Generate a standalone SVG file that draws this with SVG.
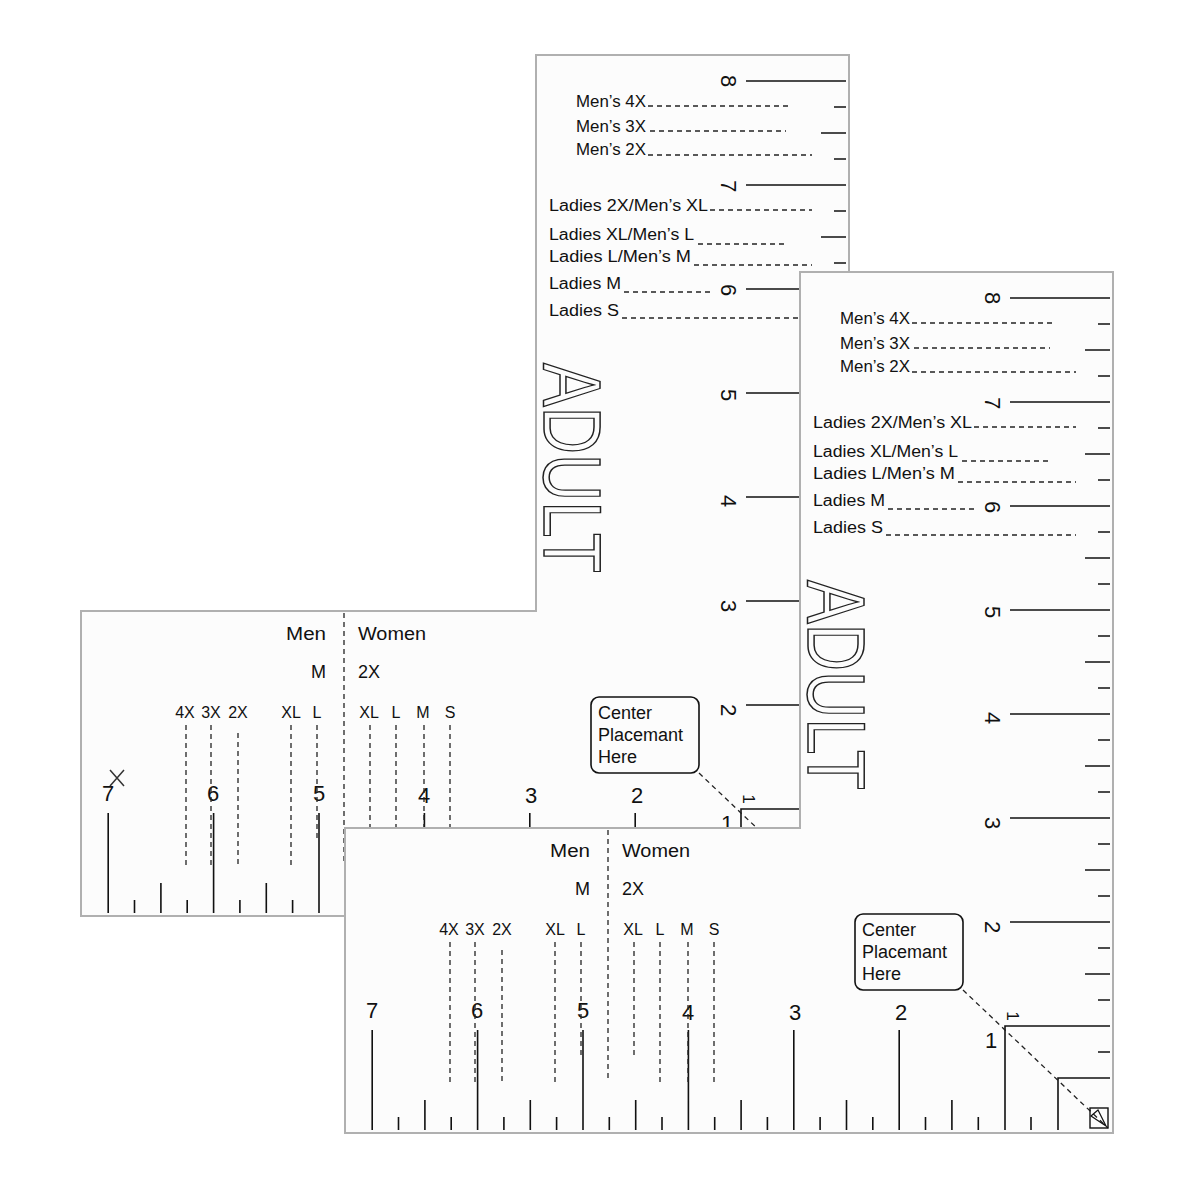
<svg xmlns="http://www.w3.org/2000/svg" xmlns:xlink="http://www.w3.org/1999/xlink" width="1200" height="1200" viewBox="0 0 1200 1200">
<style>
.body{fill:#fcfcfc;stroke:#b0b0b0;stroke-width:2}
.tk{stroke:#111;stroke-width:1.6;fill:none}
.ds{stroke:#222;stroke-width:1.3;stroke-dasharray:5,4;fill:none}
.num{font-family:"Liberation Sans",Arial,sans-serif;font-size:22px;fill:#111;text-anchor:middle;dominant-baseline:central}
.lb{font-family:"Liberation Sans",Arial,sans-serif;font-size:16px;fill:#111}
.hl{font-family:"Liberation Sans",Arial,sans-serif;font-size:18px;fill:#111}
.adult{font-family:"Liberation Sans",Arial,sans-serif;font-size:82px;fill:none;stroke:#222;stroke-width:1.5}
</style>
<defs>
<g id="ruler">
<path class="body" d="M345,828 H800 V272 H1113 V1133 H345 Z"/>
<!-- bottom ticks -->
<path class="tk" d="M1031,1117V1130M978.3,1117V1130M925.5,1117V1130M872.8,1117V1130M820.1,1117V1130M767.4,1117V1130M714.7,1117V1130M662,1117V1130M609.3,1117V1130M556.6,1117V1130M503.9,1117V1130M451.2,1117V1130M398.5,1117V1130
M951.9,1100V1130M846.5,1100V1130M741.1,1100V1130M635.7,1100V1130M530.3,1100V1130M424.9,1100V1130
M899.2,1030V1130M793.8,1030V1130M688.4,1030V1130M583,1030V1130M477.6,1030V1130M372.2,1030V1130
M1005,1130V1026H1110M1058,1130V1078H1110"/>
<!-- side ticks -->
<path class="tk" d="M1098,1052H1110M1098,1000H1110M1098,948H1110M1098,896H1110M1098,844H1110M1098,792H1110M1098,740H1110M1098,688H1110M1098,636H1110M1098,584H1110M1098,532H1110M1098,480H1110M1098,428H1110M1098,376H1110M1098,324H1110
M1085,974H1110M1085,870H1110M1085,766H1110M1085,662H1110M1085,558H1110M1085,454H1110M1085,350H1110
M1010,922H1110M1010,818H1110M1010,714H1110M1010,610H1110M1010,506H1110M1010,402H1110M1010,298H1110"/>
<!-- bottom numbers -->
<text class="num" x="372" y="1010">7</text><text class="num" x="477" y="1010">6</text><text class="num" x="583" y="1010">5</text><text class="num" x="688" y="1012">4</text><text class="num" x="795" y="1012">3</text><text class="num" x="901" y="1012">2</text><text class="num" x="991" y="1040">1</text>
<!-- side numbers -->
<text class="num" transform="translate(992,298) rotate(90)">8</text>
<text class="num" transform="translate(992,403) rotate(90)">7</text>
<text class="num" transform="translate(992,507) rotate(90)">6</text>
<text class="num" transform="translate(992,612) rotate(90)">5</text>
<text class="num" transform="translate(992,718) rotate(90)">4</text>
<text class="num" transform="translate(992,823) rotate(90)">3</text>
<text class="num" transform="translate(992,927) rotate(90)">2</text>
<text class="num" style="font-size:17px" transform="translate(1012,1016) rotate(90)">1</text>
<!-- size labels -->
<text class="lb" x="840" y="324" textLength="70" lengthAdjust="spacingAndGlyphs">Men’s 4X</text><path class="ds" d="M912,323H1052"/>
<text class="lb" x="840" y="349" textLength="70" lengthAdjust="spacingAndGlyphs">Men’s 3X</text><path class="ds" d="M914,348H1050"/>
<text class="lb" x="840" y="372" textLength="70" lengthAdjust="spacingAndGlyphs">Men’s 2X</text><path class="ds" d="M912,372H1076"/>
<text class="lb" x="813" y="428" textLength="159" lengthAdjust="spacingAndGlyphs">Ladies 2X/Men’s XL</text><path class="ds" d="M974,427H1076"/>
<text class="lb" x="813" y="457" textLength="145" lengthAdjust="spacingAndGlyphs">Ladies XL/Men’s L</text><path class="ds" d="M962,461H1050"/>
<text class="lb" x="813" y="479" textLength="142" lengthAdjust="spacingAndGlyphs">Ladies L/Men’s M</text><path class="ds" d="M958,482H1076"/>
<text class="lb" x="813" y="506" textLength="72" lengthAdjust="spacingAndGlyphs">Ladies M</text><path class="ds" d="M888,509H976"/>
<text class="lb" x="813" y="533" textLength="70" lengthAdjust="spacingAndGlyphs">Ladies S</text><path class="ds" d="M886,535H1076"/>
<text class="adult" transform="translate(808,580) rotate(90)" textLength="210" lengthAdjust="spacingAndGlyphs">ADULT</text>
<!-- horizontal arm labels -->
<path class="ds" d="M608,830V1082"/>
<text class="hl" x="590" y="857" text-anchor="end" textLength="40" lengthAdjust="spacingAndGlyphs">Men</text>
<text class="hl" x="622" y="857" textLength="68" lengthAdjust="spacingAndGlyphs">Women</text>
<text class="hl" x="590" y="895" text-anchor="end">M</text>
<text class="hl" x="622" y="895">2X</text>
<g class="hl" style="font-size:16px" text-anchor="middle">
<text x="449" y="935">4X</text><text x="475" y="935">3X</text><text x="502" y="935">2X</text><text x="555" y="935">XL</text><text x="581" y="935">L</text><text x="633" y="935">XL</text><text x="660" y="935">L</text><text x="687" y="935">M</text><text x="714" y="935">S</text>
</g>
<path class="ds" d="M450,942V1082M475,942V1082M502,950V1082M555,942V1082M581,942V1055M634,942V1055M660,942V1082M688,942V1082M714,942V1082"/>
<!-- center box -->
<rect x="855" y="914" width="108" height="76" rx="8" fill="#fcfcfc" stroke="#111" stroke-width="1.6"/>
<text class="hl" x="862" y="936">Center</text><text class="hl" x="862" y="958">Placemant</text><text class="hl" x="862" y="980">Here</text>
<path class="ds" d="M963,990L1108,1128"/>
<rect x="1090" y="1108" width="18" height="20" fill="none" stroke="#111" stroke-width="1.4"/>
<path d="M1091,1116L1106,1126L1098,1110Z" fill="none" stroke="#111" stroke-width="1.2"/>
</g>
</defs>
<g id="back-ruler">
<use xlink:href="#ruler" transform="translate(-264,-217)"/>
<path d="M110,770L124,786M124,770L110,786" stroke="#333" stroke-width="1.5"/>
</g>
<g id="front-ruler">
<use xlink:href="#ruler"/>
</g>
</svg>
